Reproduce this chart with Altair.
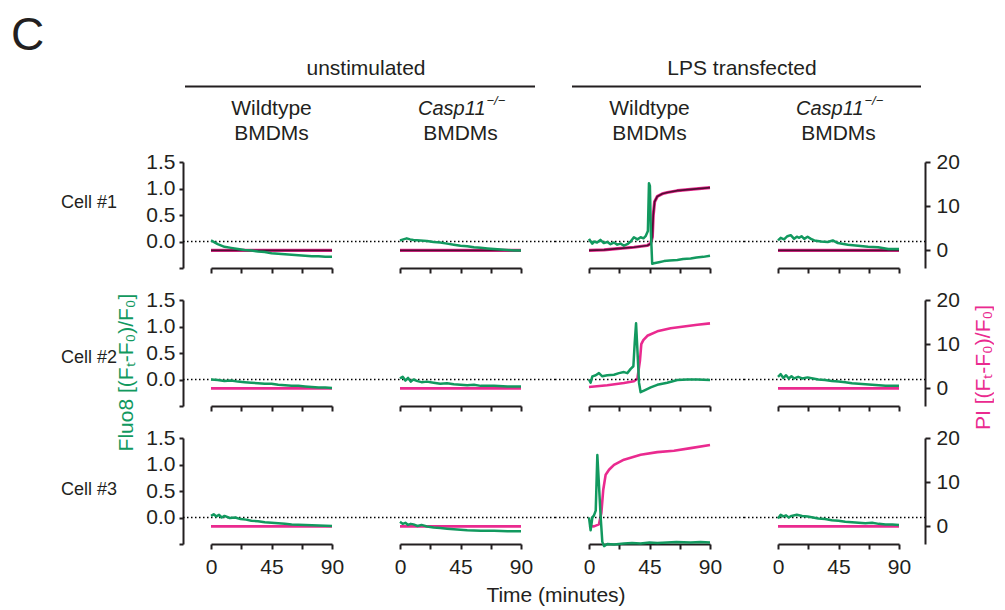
import altair as alt
import pandas as pd

GREEN = "#12995f"
MAGENTA = "#ea2a8f"
DARK_PI = "#520d33"
INK = "#231f20"
FONT = "Liberation Sans"

W, H = 121, 106
GAP_X, GAP_Y = 68, 32
FS = 21

time_ticks = [0, 22.5, 45, 67.5, 90]
fluo_ticks = [-0.5, 0.0, 0.5, 1.0, 1.5]
pi_ticks = [0, 10, 20]
fluo_domain = [-0.5, 1.5]
pi_domain = [-4, 20]

group_titles = ["unstimulated", "LPS transfected"]
col_titles = ["Wildtype", "Casp11", "Wildtype", "Casp11"]
row_titles = ["Cell #1", "Cell #2", "Cell #3"]

# flat PI traces (no uptake)
flat_t = [0, 45, 90]
flat_pi = [0.0, 0.0, 0.0]

# ---- Row 1 (Cell #1)
r1c1_t = [0, 5, 10, 15, 20, 25, 30, 35, 40, 45, 50, 55, 60, 65, 70, 75, 80, 85, 90]
r1c1_fluo = [0.02, -0.05, -0.1, -0.12, -0.14, -0.16, -0.17, -0.19, -0.2, -0.22,
             -0.23, -0.24, -0.25, -0.26, -0.27, -0.28, -0.28, -0.29, -0.29]

r1c2_t = [0, 2.5, 5, 7.5, 10, 15, 20, 25, 30, 35, 40, 45, 50, 55, 60, 65, 70, 75, 80, 85, 90]
r1c2_fluo = [0.02, 0.04, 0.06, 0.04, 0.03, 0.02, 0.01, -0.01, -0.02, -0.04, -0.06,
             -0.08, -0.09, -0.11, -0.12, -0.13, -0.14, -0.15, -0.16, -0.17, -0.17]

r1c3_t = [0, 1.2, 2.5, 3.7, 6, 8.5, 11, 13.6, 16, 18.5, 21, 23.5, 26, 28.5, 31, 33.4,
          36, 38.4, 40.5, 42.1, 43.8, 44.6, 45.3, 46.0, 47.0, 48.3, 52, 55.8, 60,
          65.7, 70, 75.6, 80, 85, 90]
r1c3_fluo = [0.05, 0.0, -0.04, 0.0, -0.02, 0.03, -0.03, -0.01, -0.05, -0.02, -0.06,
             -0.04, -0.08, -0.05, 0.0, 0.08, 0.04, 0.08, 0.06, 0.1, 0.2, 1.1, 1.05,
             0.2, -0.42, -0.41, -0.39, -0.37, -0.36, -0.35, -0.33, -0.32, -0.3,
             -0.29, -0.27]
r1c3_pi_t = [0, 11.2, 21.1, 33.4, 43.4, 45.8, 47.1, 47.8, 48.8, 50.8, 54.5, 58.2,
             65.7, 75.6, 90]
r1c3_pi = [0.0, 0.1, 0.4, 0.7, 1.1, 1.5, 3.0, 8.0, 11.0, 12.2, 12.8, 13.1, 13.5,
           13.8, 14.2]

r1c4_t = [0, 2, 4.5, 7, 9.5, 12, 14, 15.75, 17.5, 19.5, 22, 24.5, 27, 32, 37, 40.75,
          44.5, 52, 59.5, 67, 74.5, 82, 90]
r1c4_fluo = [0.02, 0.07, 0.04, 0.1, 0.12, 0.05, 0.09, 0.07, 0.1, 0.05, 0.09, 0.05,
             0.02, 0.0, -0.01, 0.02, -0.03, -0.06, -0.08, -0.1, -0.11, -0.14, -0.14]

# ---- Row 2 (Cell #2)
r2c1_t = [0, 5, 10, 15, 20, 25, 30, 35, 40, 45, 50, 55, 60, 65, 70, 75, 80, 85, 90]
r2c1_fluo = [0.0, -0.01, -0.03, -0.02, -0.04, -0.05, -0.06, -0.07, -0.08, -0.08,
             -0.1, -0.11, -0.12, -0.12, -0.13, -0.14, -0.15, -0.15, -0.16]

r2c2_t = [0, 2, 4, 6, 8, 10, 13, 16, 20, 25, 30, 35, 40, 45, 50, 55, 60, 70, 80, 90]
r2c2_fluo = [0.02, 0.05, -0.02, 0.03, -0.04, 0.0, -0.03, -0.05, -0.04, -0.06, -0.08,
             -0.07, -0.09, -0.1, -0.11, -0.1, -0.12, -0.12, -0.13, -0.13]

r2c3_t = [0, 1.2, 2.5, 5.0, 7.4, 9.9, 13.6, 18.6, 22.3, 26.0, 28.5, 31.0, 33.0, 34.0,
          35.0, 36.0, 37.2, 38.4, 40.9, 45.9, 50.8, 58.2, 65.7, 73.1, 80.6, 90]
r2c3_fluo = [0.0, -0.06, 0.06, 0.08, 0.12, 0.06, 0.08, 0.09, 0.12, 0.14, 0.12, 0.2,
             0.25, 0.69, 1.06, 0.56, -0.06, -0.24, -0.21, -0.15, -0.1, -0.06, -0.01,
             0.0, 0.0, -0.01]
r2c3_pi_t = [0, 13.6, 26.0, 33.4, 36.0, 37.9, 38.9, 40.4, 43.4, 50.8, 60.7, 70.6, 80.6, 90]
r2c3_pi = [0.3, 0.7, 1.2, 1.6, 2.2, 6.3, 10.0, 10.9, 11.9, 12.9, 13.6, 14.0, 14.4, 14.7]

r2c4_t = [0, 2, 4, 6, 8, 10, 12, 15, 18, 22, 26, 30, 35, 40, 45, 50, 55, 60, 65, 70,
          75, 80, 85, 90]
r2c4_fluo = [0.05, 0.1, 0.03, 0.08, 0.02, 0.06, 0.02, 0.05, 0.02, 0.04, 0.02, 0.0,
             -0.01, -0.03, -0.04, -0.05, -0.07, -0.08, -0.09, -0.1, -0.11, -0.12,
             -0.12, -0.12]

# ---- Row 3 (Cell #3)
r3c1_t = [0, 2, 4, 6, 8, 10, 14, 18, 22, 26, 30, 35, 40, 45, 50, 55, 60, 70, 80, 90]
r3c1_fluo = [0.03, 0.06, 0.02, 0.05, 0.0, 0.03, -0.01, 0.0, -0.03, -0.04, -0.06,
             -0.07, -0.09, -0.1, -0.11, -0.12, -0.13, -0.14, -0.15, -0.16]

r3c2_t = [0, 2, 4, 6, 8, 10, 13, 16, 20, 25, 30, 35, 40, 45, 50, 60, 70, 80, 90]
r3c2_fluo = [-0.08, -0.12, -0.1, -0.14, -0.12, -0.13, -0.16, -0.14, -0.17, -0.19,
             -0.2, -0.21, -0.22, -0.23, -0.24, -0.25, -0.25, -0.26, -0.26]

r3c3_t = [0, 1.2, 2.5, 3.7, 5.0, 6.2, 7.4, 8.7, 9.9, 11.2, 13.6, 18.6, 26.0, 32, 38.4,
          45, 50.8, 58, 65, 75.6, 83, 90]
r3c3_fluo = [0.0, -0.24, 0.0, 0.04, 0.13, 1.18, 0.62, 0.0, -0.46, -0.54, -0.5, -0.51,
             -0.49, -0.48, -0.49, -0.47, -0.48, -0.47, -0.46, -0.47, -0.46, -0.47]
r3c3_pi_t = [0, 3.7, 7.4, 9.2, 10.6, 12.4, 14.9, 18.6, 26.0, 38.4, 50.8, 63.2, 75.6, 90]
r3c3_pi = [0.1, 0.0, 0.45, 3.1, 8.3, 11.7, 12.8, 13.9, 15.1, 16.2, 16.8, 17.1, 17.7, 18.4]

r3c4_t = [0, 2, 4, 6, 8, 10, 14, 18, 22, 26, 30, 35, 40, 45, 50, 55, 60, 65, 70, 75,
          80, 85, 90]
r3c4_fluo = [-0.02, 0.05, 0.02, 0.04, 0.0, 0.03, 0.05, 0.03, 0.02, 0.0, -0.02, -0.03,
             -0.05, -0.06, -0.08, -0.09, -0.1, -0.11, -0.1, -0.12, -0.13, -0.13, -0.14]

grid = [
    [(r1c1_t, r1c1_fluo, flat_t, flat_pi), (r1c2_t, r1c2_fluo, flat_t, flat_pi),
     (r1c3_t, r1c3_fluo, r1c3_pi_t, r1c3_pi), (r1c4_t, r1c4_fluo, flat_t, flat_pi)],
    [(r2c1_t, r2c1_fluo, flat_t, flat_pi), (r2c2_t, r2c2_fluo, flat_t, flat_pi),
     (r2c3_t, r2c3_fluo, r2c3_pi_t, r2c3_pi), (r2c4_t, r2c4_fluo, flat_t, flat_pi)],
    [(r3c1_t, r3c1_fluo, flat_t, flat_pi), (r3c2_t, r3c2_fluo, flat_t, flat_pi),
     (r3c3_t, r3c3_fluo, r3c3_pi_t, r3c3_pi), (r3c4_t, r3c4_fluo, flat_t, flat_pi)],
]

ONE = pd.DataFrame({"k": [0]})


def label(text, x, y, size=FS, color=INK, align="center", baseline="middle",
          angle=0, style="normal"):
    kw = dict(font=FONT, fontSize=size, color=color, align=align,
              baseline=baseline, fontStyle=style)
    if angle:
        kw["angle"] = angle
    return alt.Chart(ONE).mark_text(**kw).encode(
        x=alt.value(x), y=alt.value(y), text=alt.value(text))


def hline(x1, x2, y):
    return alt.Chart(ONE).mark_rule(color=INK, strokeWidth=2).encode(
        x=alt.value(x1), x2=alt.value(x2), y=alt.value(y))


def casp_header(cx):
    return [
        label("Casp11", cx + 25, -53.5, size=20, align="right", style="italic"),
        label("\u2212/\u2212", cx + 26, -61, size=13, align="left", style="italic"),
        label("BMDMs", cx, -28.5),
    ]


def wt_header(cx):
    return [label("Wildtype", cx, -53.5), label("BMDMs", cx, -28.5)]


def annotations(r, c):
    cx = W / 2
    out = []
    if r == 0:
        if c == 0:
            out.append(label("C", -200, -148.5, size=46, align="left", baseline="top"))
            out.append(label(group_titles[0], (2 * W + GAP_X) / 2, -93.5))
            out.append(hline(-26, 324, -75.5))
        if c == 2:
            out.append(label(group_titles[1], 153, -93.5))
            out.append(hline(-17, 332, -75.5))
        out += casp_header(cx) if col_titles[c] == "Casp11" else wt_header(cx)
    if c == 0:
        ys = [40.5, 57.5, 51.5]
        out.append(label(row_titles[r], -150, ys[r], size=18, align="left"))
    if r == 1 and c == 0:
        out.append(label("Fluo8 [(F\u209c-F\u2080)/F\u2080]", -84, 72.5,
                         color=GREEN, angle=270))
    if r == 1 and c == 3:
        out.append(label("PI [(F\u209c-F\u2080)/F\u2080]", 206, 67.5,
                         color=MAGENTA, angle=270))
    if r == 2 and c == 1:
        out.append(label("Time (minutes)", 156, 158))
    return out


def panel(r, c, ft, fv, pt, pv):
    fdf = pd.DataFrame({"t": ft, "v": fv})
    pdf = pd.DataFrame({"t": pt, "v": pv})
    x_axis = alt.Axis(values=time_ticks, labels=(r == 2), format=".0f",
                      labelExpr="datum.value % 45 === 0 ? datum.label : ''",
                      labelFlush=False, tickSize=5, labelPadding=7, title=None)
    xenc = alt.X("t:Q", scale=alt.Scale(domain=[0, 90], nice=False, zero=False),
                 axis=x_axis)
    fscale = alt.Scale(domain=fluo_domain, nice=False, zero=False)
    pscale = alt.Scale(domain=pi_domain, nice=False, zero=False)
    if c == 0:
        faxis = alt.Axis(orient="left", offset=28, values=fluo_ticks, format=".1f",
                         labelExpr="datum.value < -0.25 ? '' : datum.label",
                         tickSize=4, labelPadding=4, title=None)
    else:
        faxis = None
    if c == 3:
        paxis = alt.Axis(orient="right", offset=26, values=pi_ticks, format="d",
                         tickSize=5, labelPadding=6, title=None)
    else:
        paxis = None
    layers = [alt.Chart(pdf).mark_line(color=MAGENTA, strokeWidth=2.6 if r else 3.2,
                                       strokeJoin="round").encode(
        x=xenc, y=alt.Y("v:Q", scale=pscale, axis=paxis))]
    if r == 0:
        layers.append(alt.Chart(pdf).mark_line(color=DARK_PI, strokeWidth=1.7,
                                               strokeJoin="round").encode(
            x=xenc, y=alt.Y("v:Q", scale=pscale, axis=None)))
    x1 = -28 if c == 0 else -GAP_X / 2
    x2 = W + 26 if c == 3 else W + GAP_X / 2
    layers.append(alt.Chart(ONE).mark_rule(color="black", strokeWidth=1.4,
                                           strokeDash=[1.5, 2.5]).encode(
        x=alt.value(x1), x2=alt.value(x2),
        y=alt.YDatum(0, type="quantitative", scale=fscale, axis=None)))
    layers.append(alt.Chart(fdf).mark_line(color=GREEN, strokeWidth=2.5,
                                           strokeJoin="round").encode(
        x=xenc, y=alt.Y("v:Q", scale=fscale, axis=faxis)))
    layers += annotations(r, c)
    return alt.layer(*layers).resolve_scale(y="independent").properties(width=W, height=H)


panels = [panel(r, c, *grid[r][c]) for r in range(3) for c in range(4)]

chart = alt.concat(*panels, columns=4, spacing={"row": GAP_Y, "column": GAP_X},
                   bounds="flush").properties(
    padding={"left": 3, "top": 4, "right": 0, "bottom": 0}
).configure_view(stroke=None).configure_axis(
    grid=False, domainColor=INK, domainWidth=2, tickColor=INK, tickWidth=2,
    labelFont=FONT, labelFontSize=FS, labelColor=INK)

chart.save("out.html", embed_options={"renderer": "svg", "actions": False})
